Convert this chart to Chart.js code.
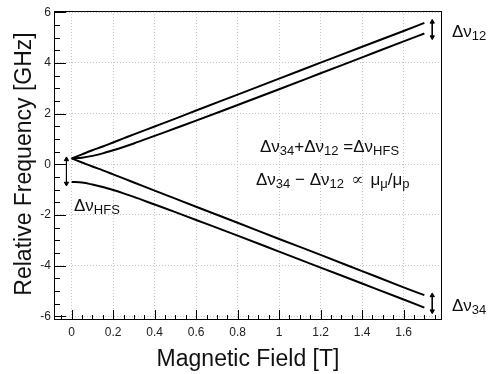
<!DOCTYPE html>
<html lang="ja">
<head>
<meta charset="UTF-8">
<title>Breit-Rabi diagram</title>
<script src="https://cdn.jsdelivr.net/npm/chart.js"></script>
<style>
    body { margin: 0; background: #fff; }
    canvas { display: block; }
</style>
</head>
<body>
<canvas id="levelChart" width="493" height="374"></canvas>
<script>
    // values
    const fieldT = [0, 0.05, 0.1, 0.15, 0.2, 0.25, 0.3, 0.4, 0.5, 0.6, 0.8, 1.0, 1.2, 1.4, 1.6, 1.7];
    const level1 = [0.23, 0.39, 0.55, 0.70, 0.86, 1.02, 1.18, 1.49, 1.80, 2.12, 2.75, 3.38, 4.01, 4.64, 5.26, 5.58];
    const level2 = [0.23, 0.26, 0.33, 0.43, 0.55, 0.68, 0.82, 1.12, 1.42, 1.72, 2.34, 2.96, 3.59, 4.22, 4.85, 5.16];
    const level3 = [0.23, 0.07, -0.09, -0.24, -0.40, -0.56, -0.72, -1.04, -1.36, -1.68, -2.31, -2.95, -3.58, -4.22, -4.86, -5.17];
    const level4 = [-0.70, -0.72, -0.80, -0.90, -1.02, -1.15, -1.29, -1.59, -1.89, -2.20, -2.82, -3.45, -4.08, -4.71, -5.34, -5.66];

    // double arrows: x position, upper tip, lower tip
    const arrowX = [-0.025, 1.738, 1.738];
    const arrowUp = [0.19, 5.62, -5.18];
    const arrowDown = [-0.76, 5.02, -5.80];

    const xRange = [-0.085, 1.785];
    const yRange = [-6.15, 6.05];

    const FONT = '"Liberation Sans", Arial, Helvetica, sans-serif';

    function pts(ys) {
        return fieldT.map((x, i) => ({ x: x, y: ys[i] }));
    }

    const levelSets = [level1, level2, level3, level4].map(ys => ({
        data: pts(ys),
        borderColor: '#000',
        borderWidth: 2,
        pointRadius: 0,
        cubicInterpolationMode: 'monotone',
        fill: false
    }));

    const arrowSets = arrowX.map((x, i) => ({
        data: [{ x: x, y: arrowUp[i] }, { x: x, y: arrowDown[i] }],
        borderColor: '#000',
        backgroundColor: '#000',
        borderWidth: 1,
        pointStyle: 'triangle',
        pointRadius: 2.5,
        pointRotation: [0, 180],
        fill: false
    }));

    function drawRich(ctx, parts, x, y) {
        let cx = x;
        ctx.textAlign = 'left';
        ctx.textBaseline = 'alphabetic';
        for (const [txt, sub] of parts) {
            ctx.font = (sub ? 13 : 17) + 'px ' + FONT;
            ctx.fillText(txt, cx, sub ? y + 3 : y);
            cx += ctx.measureText(txt).width;
        }
    }

    // frame, inner ticks, axis titles and annotations
    const decor = {
        id: 'decor',
        afterDraw(chart) {
            const ctx = chart.ctx;
            const a = chart.chartArea;
            const xs = chart.scales.x, ys = chart.scales.y;
            ctx.save();
            ctx.strokeStyle = '#000';
            ctx.lineWidth = 1;
            ctx.beginPath();
            for (let i = -12; i <= 12; i++) {
                const py = Math.round(ys.getPixelForValue(i * 0.5)) + 0.5;
                const len = i % 4 === 0 ? 12 : 6;
                ctx.moveTo(a.left, py);
                ctx.lineTo(a.left + len, py);
            }
            for (let i = -1; i <= 35; i++) {
                const v = i * 0.05;
                if (v < xRange[0] || v > xRange[1]) continue;
                const px = Math.round(xs.getPixelForValue(v)) + 0.5;
                const len = i % 4 === 0 ? 10 : 5;
                ctx.moveTo(px, a.bottom);
                ctx.lineTo(px, a.bottom - len);
            }
            ctx.stroke();
            ctx.strokeRect(a.left + 0.5, a.top + 0.5, a.right - a.left - 1, a.bottom - a.top - 1);

            ctx.fillStyle = '#111';
            ctx.font = '23px ' + FONT;
            ctx.textAlign = 'center';
            ctx.textBaseline = 'alphabetic';
            ctx.fillText('Magnetic Field [T]', 248, 366);
            ctx.save();
            ctx.translate(31, 164);
            ctx.rotate(-Math.PI / 2);
            ctx.fillText('Relative Frequency [GHz]', 0, 0);
            ctx.restore();

            drawRich(ctx, [['Δν', 0], ['34', 1], ['+Δν', 0], ['12', 1], [' =Δν', 0], ['HFS', 1]], 260, 152);
            drawRich(ctx, [['Δν', 0], ['34', 1], [' − Δν', 0], ['12', 1], [' ∝ μ', 0], ['μ', 1], ['/μ', 0], ['p', 1]], 256, 185);
            drawRich(ctx, [['Δν', 0], ['HFS', 1]], 74, 211);
            drawRich(ctx, [['Δν', 0], ['12', 1]], 452, 37);
            drawRich(ctx, [['Δν', 0], ['34', 1]], 452, 311);
            ctx.restore();
        }
    };

    const gridOpts = { color: '#c4c4c4', lineWidth: 1, drawTicks: false };
    const borderOpts = { display: false, dash: [1, 2] };

    new Chart(document.getElementById('levelChart'), {
        type: 'line',
        data: { datasets: levelSets.concat(arrowSets) },
        options: {
            responsive: false,
            animation: false,
            layout: { padding: { top: 11, right: 51, left: 0, bottom: 0 } },
            plugins: { legend: { display: false }, tooltip: { enabled: false } },
            scales: {
                x: {
                    type: 'linear',
                    min: xRange[0],
                    max: xRange[1],
                    grid: gridOpts,
                    border: borderOpts,
                    ticks: {
                        stepSize: 0.2,
                        includeBounds: false,
                        autoSkip: false,
                        maxRotation: 0,
                        padding: 5,
                        color: '#222',
                        font: { family: FONT, size: 12 },
                        callback: v => String(Math.round(v * 10) / 10)
                    },
                    afterFit: s => { s.height = 54; }
                },
                y: {
                    type: 'linear',
                    min: yRange[0],
                    max: yRange[1],
                    grid: gridOpts,
                    border: borderOpts,
                    ticks: {
                        stepSize: 2,
                        includeBounds: false,
                        autoSkip: false,
                        padding: 3,
                        color: '#222',
                        font: { family: FONT, size: 12 },
                        callback: v => String(Math.round(v))
                    },
                    afterFit: s => { s.width = 54; }
                }
            }
        },
        plugins: [decor]
    });
</script>
</body>
</html>
